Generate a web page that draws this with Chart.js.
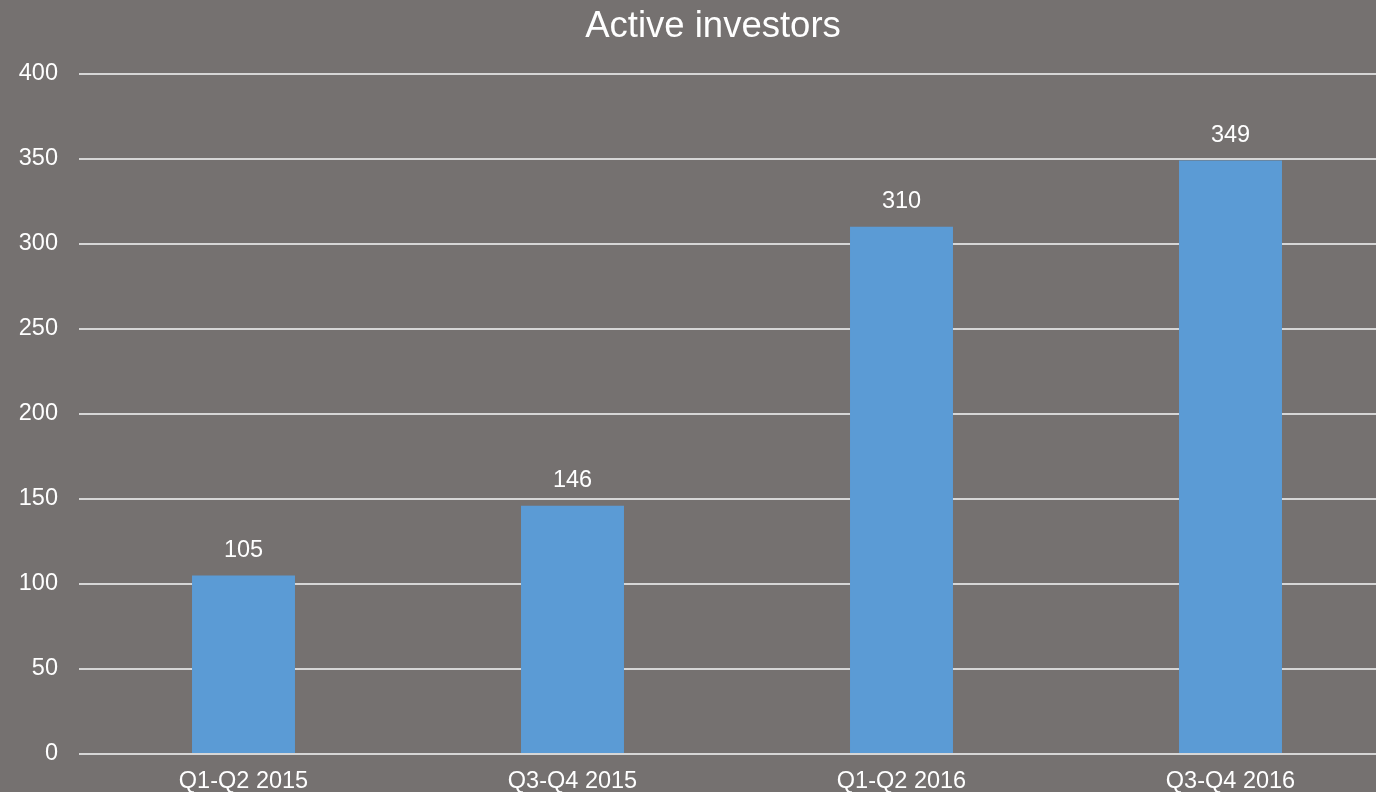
<!DOCTYPE html>
<html>
<head>
<meta charset="utf-8">
<script src="https://cdn.jsdelivr.net/npm/chart.js@4/dist/chart.umd.min.js"></script>
<style>
  html, body { margin: 0; padding: 0; background: #757170; overflow: hidden; }
  #wrap { width: 1376px; height: 792px; overflow: hidden; }
  #box { width: 1395px; height: 792px; }
</style>
</head>
<body>
<div id="wrap"><div id="box"><canvas id="chart"></canvas></div></div>
<script>
const categories = ["Q1-Q2 2015", "Q3-Q4 2015", "Q1-Q2 2016", "Q3-Q4 2016"];
const investors = [105, 146, 310, 349];
const yTicks = [0, 50, 100, 150, 200, 250, 300, 350, 400];

const FONT = "'Liberation Sans', Arial, sans-serif";

// Value labels above each bar
const valueLabels = {
  id: "valueLabels",
  afterLayout(chart) {
    // title sits a little right of the canvas centre in the original
    if (chart.titleBlock) {
      chart.titleBlock.left += 15.5;
      chart.titleBlock.right += 15.5;
    }
  },
  afterDatasetsDraw(chart) {
    const ctx = chart.ctx;
    const meta = chart.getDatasetMeta(0);
    ctx.save();
    ctx.fillStyle = "#ffffff";
    ctx.font = "23.5px " + FONT;
    ctx.textAlign = "center";
    ctx.textBaseline = "middle";
    meta.data.forEach((bar, i) => {
      ctx.fillText(String(investors[i]), bar.x, bar.y - 25);
    });
    ctx.restore();
  },
};

const ctx = document.getElementById("chart").getContext("2d");
new Chart(ctx, {
  type: "bar",
  data: {
    labels: categories,
    datasets: [
      {
        data: investors,
        backgroundColor: "#5b9bd5",
        categoryPercentage: 1,
        barPercentage: 0.313,
      },
    ],
  },
  options: {
    responsive: true,
    maintainAspectRatio: false,
    animation: false,
    layout: { padding: 0 },
    plugins: {
      legend: { display: false },
      tooltip: { enabled: false },
      title: {
        display: true,
        text: "Active investors",
        color: "#ffffff",
        font: { family: FONT, size: 36.5, weight: "normal" },
        padding: { top: 5, bottom: 25 },
      },
    },
    scales: {
      x: {
        grid: { display: false, drawTicks: false },
        border: { display: false },
        ticks: {
          color: "#ffffff",
          font: { family: FONT, size: 23.5 },
          padding: 13,
          maxRotation: 0,
        },
        afterFit(scale) { scale.height = 38; },
      },
      y: {
        min: 0,
        max: 400,
        afterBuildTicks(scale) { scale.ticks = yTicks.map((v) => ({ value: v })); },
        grid: { color: "#d6d6d6", lineWidth: 2, drawTicks: false },
        border: { display: false },
        ticks: {
          color: "#ffffff",
          font: { family: FONT, size: 23.5 },
          padding: 21,
        },
        afterFit(scale) { scale.width = 79; },
      },
    },
  },
  plugins: [valueLabels],
});
</script>
</body>
</html>
